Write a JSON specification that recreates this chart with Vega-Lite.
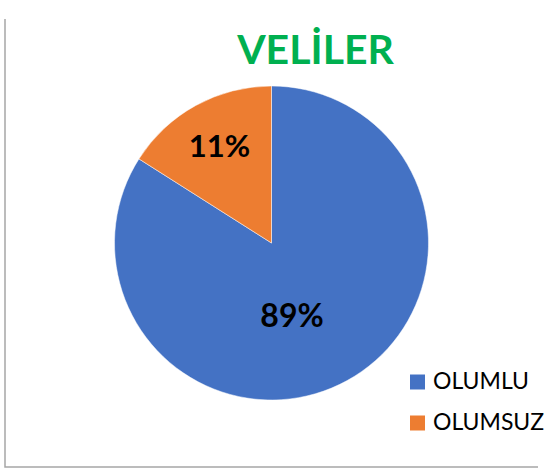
{
  "$schema": "https://vega.github.io/schema/vega-lite/v6.json",
  "autosize": "none",
  "padding": {"left": 5, "top": 19, "right": 10, "bottom": 3},
  "width": 533,
  "height": 448,
  "background": "white",
  "view": {"stroke": "#a6a6a6", "strokeWidth": 1.5, "strokeDash": [981, 981], "strokeDashOffset": 981},
  "title": {
    "text": "VELİLER",
    "orient": "none",
    "font": "Lato",
    "fontSize": 41,
    "fontWeight": "bold",
    "color": "#00B050",
    "align": "center",
    "baseline": "alphabetic",
    "dx": 310.5,
    "dy": 44.5
  },
  "data": {
    "values": [
      {"category": "OLUMLU", "value": 84, "label": "89%"},
      {"category": "OLUMSUZ", "value": 16, "label": "11%"}
    ]
  },
  "encoding": {
    "theta": {"field": "value", "type": "quantitative", "stack": true},
    "order": {"field": "category", "type": "nominal", "sort": "ascending"}
  },
  "layer": [
    {
      "mark": {"type": "arc", "outerRadius": 157, "stroke": "white", "strokeWidth": 0.5},
      "encoding": {
        "color": {
          "field": "category",
          "type": "nominal",
          "scale": {"domain": ["OLUMLU", "OLUMSUZ"], "range": ["#4472C4", "#ED7D31"]},
          "legend": {
            "title": null,
            "orient": "none",
            "legendX": 401,
            "legendY": 351.5,
            "symbolType": "square",
            "symbolSize": 225,
            "symbolStrokeWidth": 0,
            "labelFont": "Lato",
            "labelFontSize": 23,
            "labelColor": "#000000",
            "labelOffset": 4,
            "rowPadding": 17
          }
        }
      }
    },
    {
      "mark": {"type": "text", "radius": 108, "font": "Lato", "fontSize": 31, "fontWeight": "bold", "color": "#000000"},
      "encoding": {
        "text": {"condition": {"test": "datum.category === 'OLUMSUZ'", "field": "label", "type": "nominal"}, "value": ""}
      }
    },
    {
      "mark": {"type": "text", "radius": 80, "dx": -18, "dy": 4, "font": "Lato", "fontSize": 32, "fontWeight": "bold", "color": "#000000"},
      "encoding": {
        "text": {"condition": {"test": "datum.category === 'OLUMLU'", "field": "label", "type": "nominal"}, "value": ""}
      }
    }
  ]
}
